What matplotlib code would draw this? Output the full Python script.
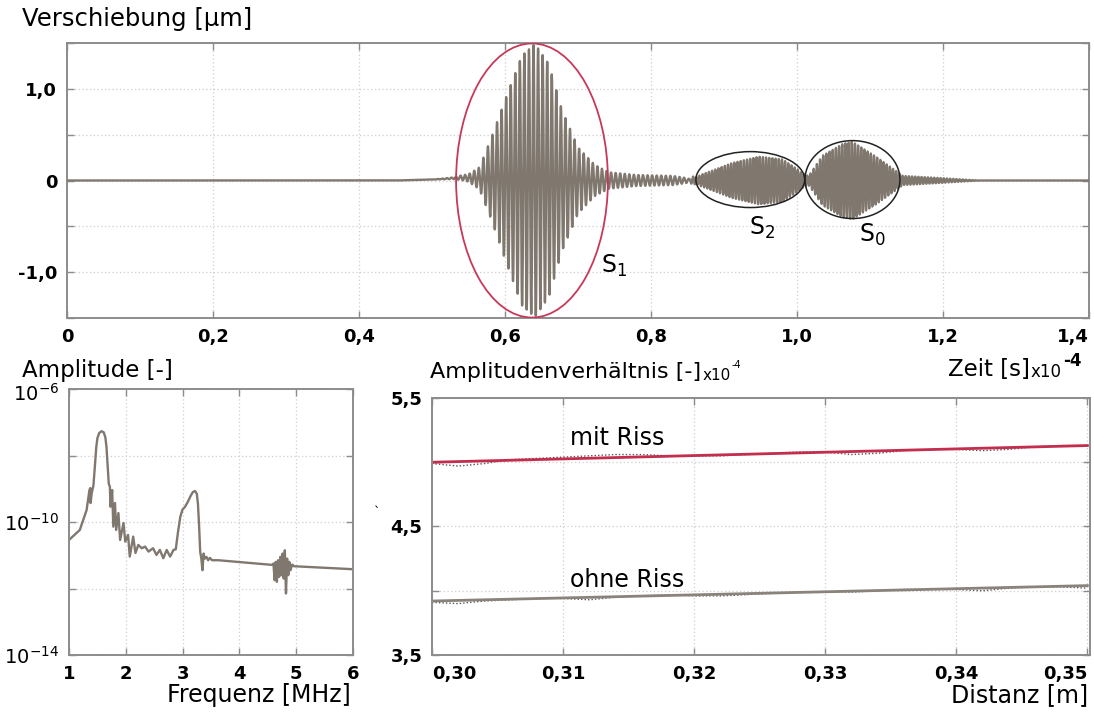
import numpy as np
import matplotlib
matplotlib.use("Agg")
import matplotlib.pyplot as plt
from matplotlib.patches import Ellipse
from matplotlib.ticker import FixedLocator, FixedFormatter
import matplotlib.transforms as mtransforms

plt.rcParams['font.family'] = ['DejaVu Sans']

# ---------------- data: time signal (packets) ----------
# envelope knots (time in 1e-4 s, amplitude in µm) and carrier frequency (MHz)
s1_env_t = [0.50, 0.53, 0.55, 0.565, 0.581, 0.602, 0.623, 0.641, 0.660, 0.678, 0.700, 0.723, 0.742, 0.780, 0.830, 0.870]
s1_env_a = [0.00, 0.01, 0.04, 0.12, 0.44, 0.91, 1.36, 1.49, 1.27, 0.77, 0.36, 0.17, 0.09, 0.06, 0.05, 0.00]
s1_freq = 1.6
s2_env_t = [0.85, 0.861, 0.888, 0.911, 0.948, 0.980, 1.003, 1.015]
s2_env_a = [0.00, 0.04, 0.12, 0.19, 0.26, 0.23, 0.11, 0.00]
s2_freq = 2.3
s0_env_t = [1.005, 1.017, 1.035, 1.063, 1.076, 1.108, 1.131, 1.145, 1.19, 1.25]
s0_env_a = [0.00, 0.06, 0.27, 0.40, 0.42, 0.26, 0.13, 0.05, 0.03, 0.00]
s0_freq = 2.3
# slow baseline drift before the first packet
base_t = [0.45, 0.50, 0.54, 0.58, 0.62]
base_a = [0.00, 0.01, 0.03, 0.02, 0.00]

# ---------------- data: amplitude spectrum --------------------------------
spec_f = [1.00, 1.19, 1.31, 1.36, 1.375, 1.38, 1.40, 1.43, 1.45, 1.48, 1.50, 1.53, 1.57, 1.61, 1.64, 1.66, 1.68, 1.70,
          1.72, 1.73, 1.76, 1.78, 1.81, 1.83, 1.87, 1.90, 1.96, 1.99, 2.04, 2.07, 2.13, 2.17,
          2.22, 2.28, 2.34, 2.40, 2.48, 2.54, 2.60, 2.66, 2.72, 2.78, 2.84, 2.88, 2.92, 2.96, 3.00,
          3.04, 3.09, 3.14, 3.18, 3.22, 3.25, 3.27, 3.29, 3.31, 3.33, 3.35, 3.37, 3.39, 3.42, 3.45, 3.48, 3.52, 3.63,
          4.58, 4.60, 4.62, 4.64, 4.66, 4.68, 4.70, 4.72, 4.74, 4.76, 4.78, 4.80, 4.82, 4.84, 4.86, 4.88, 4.90, 4.93, 4.96, 6.00]
spec_log10 = [-10.54, -10.24, -9.64, -9.04, -8.98, -9.43, -9.13, -8.9, -8.45, -7.75, -7.48, -7.33, -7.27, -7.30, -7.45, -7.75, -8.30, -8.85,
              -8.94, -9.54, -9.04, -10.14, -9.43, -10.24, -9.73, -10.54, -10.03, -10.59, -10.39, -11.04, -10.44, -10.93,
              -10.69, -10.79, -10.74, -10.89, -10.79, -10.99, -10.84, -11.09, -10.84, -11.04, -10.84, -10.82, -10.29, -9.84, -9.62,
              -9.55, -9.40, -9.22, -9.10, -9.07, -9.15, -9.45, -10.10, -10.90, -11.10, -11.45, -10.95, -11.10, -11.05, -11.15, -11.08, -11.15, -11.15,
              -11.29, -11.25, -11.75, -11.20, -11.80, -11.15, -11.65, -11.05, -11.60, -10.95, -11.70, -10.85, -12.15, -11.10, -11.60, -11.20, -11.45, -11.28, -11.33, -11.42]

# ---------------- data: amplitude ratio vs distance -----------------------
dist_fit = [0.30, 0.35]
mit_fit = [5.00, 5.13]
ohne_fit = [3.92, 4.04]
dist_raw = [0.300, 0.302, 0.304, 0.306, 0.308, 0.310, 0.312, 0.314, 0.316, 0.318, 0.320, 0.322, 0.324,
            0.326, 0.328, 0.330, 0.332, 0.334, 0.336, 0.338, 0.340, 0.342, 0.344, 0.346, 0.348, 0.350]
mit_raw = [4.99, 4.97, 4.99, 5.02, 5.03, 5.04, 5.05, 5.06, 5.06, 5.05, 5.05, 5.05, 5.06,
           5.07, 5.08, 5.08, 5.06, 5.07, 5.09, 5.10, 5.10, 5.09, 5.10, 5.12, 5.13, 5.13]
ohne_raw = [3.91, 3.90, 3.92, 3.93, 3.94, 3.94, 3.93, 3.95, 3.96, 3.97, 3.96, 3.96, 3.97,
            3.98, 3.99, 3.99, 3.99, 4.00, 4.01, 4.01, 4.01, 4.00, 4.02, 4.03, 4.03, 4.02]

# ---------------- styling ---------------------------------------------------
W, H = 1094, 715
trace_col = '#80786f'
spine_col = '#8c8c8c'
grid_kw = dict(color='#cfcfcf', linestyle=(0, (1, 2)), linewidth=0.9)
lab_fs = 16.5

fig = plt.figure(figsize=(W / 100, H / 100), dpi=100)
renderer = fig.canvas.get_renderer()


def fbox(l, t, r, b):
    return [l / W, 1 - b / H, (r - l) / W, (b - t) / H]


def style(ax):
    for s in ax.spines.values():
        s.set_color(spine_col)
        s.set_linewidth(1.4)
    ax.tick_params(direction='in', which='both', top=True, right=True, length=5,
                   color=spine_col, width=1.0, labelsize=13, pad=7)
    for lab in ax.get_xticklabels() + ax.get_yticklabels():
        lab.set_fontweight('bold')


def right_px(txt):
    bb = txt.get_window_extent(renderer)
    return bb.x1


def label_with_exp(x_px, y_px, main, main_fs, x10_fs, exp_fs, exp_bold, exp_dy, anchor='left'):
    t1 = fig.text(x_px / W, 1 - y_px / H, main, fontsize=main_fs, ha=anchor, va='center')
    x_end = right_px(t1)
    t2 = fig.text((x_end + 1) / W, 1 - (y_px + 3) / H, 'x10', fontsize=x10_fs, ha='left', va='center')
    x_end2 = right_px(t2)
    fig.text((x_end2 + 1) / W, 1 - (y_px - exp_dy) / H, '-4', fontsize=exp_fs,
             fontweight='bold' if exp_bold else 'normal', ha='left', va='center')


# ---------------- top: time signal -----------------------------------------
ax1 = fig.add_axes(fbox(67, 43, 1089, 318))
t = np.linspace(0, 1.42, 40000)
sig = (np.interp(t, s1_env_t, s1_env_a, left=0, right=0) * np.sin(2 * np.pi * s1_freq * 100 * t)
       + np.interp(t, s2_env_t, s2_env_a, left=0, right=0) * np.sin(2 * np.pi * s2_freq * 100 * t)
       + np.interp(t, s0_env_t, s0_env_a, left=0, right=0) * np.sin(2 * np.pi * s0_freq * 100 * t)
       + np.interp(t, base_t, base_a, left=0, right=0))
ax1.plot(t, sig, color=trace_col, lw=1.7, zorder=3)
ax1.set_xlim(0, 1.4)
ax1.set_ylim(-1.5, 1.5)
xt = [0, 0.2, 0.4, 0.6, 0.8, 1.0, 1.2, 1.4]
ax1.xaxis.set_major_locator(FixedLocator(xt))
ax1.xaxis.set_major_formatter(FixedFormatter(['0', '0,2', '0,4', '0,6', '0,8', '1,0', '1,2', '1,4']))
yt = [-1.5, -1.0, -0.5, 0, 0.5, 1.0, 1.5]
ax1.yaxis.set_major_locator(FixedLocator(yt))
ax1.yaxis.set_major_formatter(FixedFormatter(['', '-1,0', '', '0', '', '1,0', '']))
ax1.grid(True, **grid_kw)
style(ax1)
ax1.get_xticklabels()[-1].set_ha('right')

ax1.add_patch(Ellipse((0.637, 0.0), 0.208, 2.99, fill=False, ec='#c8385a', lw=1.3, zorder=4))
ax1.add_patch(Ellipse((0.936, 0.01), 0.149, 0.61, fill=False, ec='#222222', lw=1.1, zorder=4))
ax1.add_patch(Ellipse((1.076, 0.01), 0.130, 0.85, fill=False, ec='#222222', lw=1.1, zorder=4))
ax1.text(0.731, -0.93, r'S$_1$', fontsize=17, ha='left', va='center')
ax1.text(0.934, -0.52, r'S$_2$', fontsize=17, ha='left', va='center')
ax1.text(1.085, -0.59, r'S$_0$', fontsize=17, ha='left', va='center')

fig.text(22 / W, 1 - 19 / H, 'Verschiebung [µm]', fontsize=17.5, ha='left', va='center')
label_with_exp(948, 369, 'Zeit [s]', lab_fs, 12, 12, True, 8)

# ---------------- bottom left: spectrum ----------------------------------
ax2 = fig.add_axes(fbox(69, 389, 353, 655))
ax2.plot(spec_f, 10.0 ** np.array(spec_log10), color=trace_col, lw=1.7)
ax2.set_yscale('log')
ax2.set_xlim(1, 6)
ax2.set_ylim(1e-14, 1e-6)
ax2.xaxis.set_major_locator(FixedLocator([1, 2, 3, 4, 5, 6]))
ax2.xaxis.set_major_formatter(FixedFormatter(['1', '2', '3', '4', '5', '6']))
ax2.yaxis.set_major_locator(FixedLocator([1e-14, 1e-12, 1e-10, 1e-8, 1e-6]))
ax2.yaxis.set_major_formatter(FixedFormatter([r'$10^{-14}$', '', r'$10^{-10}$', '', r'$10^{-6}$']))
ax2.yaxis.set_minor_locator(FixedLocator([]))
ax2.grid(True, **grid_kw)
style(ax2)
for lab in ax2.get_yticklabels():
    lab.set_fontweight('normal')
    lab.set_fontsize(14)
ytl = ax2.get_yticklabels()
ytl[-1].set_transform(ytl[-1].get_transform() + mtransforms.ScaledTranslation(0, -3 / 100, fig.dpi_scale_trans))
fig.text(22 / W, 1 - 371 / H, 'Amplitude [-]', fontsize=lab_fs, ha='left', va='center')
fig.text(351 / W, 1 - 695 / H, 'Frequenz [MHz]', fontsize=17, ha='right', va='center')

# ---------------- bottom right: amplitude ratio --------------------------
ax3 = fig.add_axes(fbox(432, 398, 1090, 655))
ax3.plot(dist_raw, mit_raw, color='#555555', lw=1.0, ls=(0, (1, 1.5)))
ax3.plot(dist_raw, ohne_raw, color='#555555', lw=1.0, ls=(0, (1, 1.5)))
ax3.plot(dist_fit, mit_fit, color='#c32d4e', lw=2.0)
ax3.plot(dist_fit, ohne_fit, color='#8a837b', lw=2.0)
ax3.set_xlim(0.30, 0.3502)
ax3.set_ylim(3.5, 5.5)
ax3.xaxis.set_major_locator(FixedLocator([0.30, 0.31, 0.32, 0.33, 0.34, 0.35]))
ax3.xaxis.set_major_formatter(FixedFormatter(['0,30', '0,31', '0,32', '0,33', '0,34', '0,35']))
ax3.yaxis.set_major_locator(FixedLocator([3.5, 4.0, 4.5, 5.0, 5.5]))
ax3.yaxis.set_major_formatter(FixedFormatter(['3,5', '', '4,5', '', '5,5']))
ax3.grid(True, **grid_kw)
style(ax3)
ax3.get_xticklabels()[0].set_ha('left')
ax3.get_xticklabels()[-1].set_ha('right')
ax3.text(0.3105, 5.19, 'mit Riss', fontsize=17, ha='left', va='center')
ax3.text(0.3105, 4.08, 'ohne Riss', fontsize=17, ha='left', va='center')
label_with_exp(430, 372, 'Amplitudenverhältnis [-]', 16, 11, 7, False, 7)
fig.text(1088 / W, 1 - 695 / H, 'Distanz [m]', fontsize=17, ha='right', va='center')
fig.text(377 / W, 1 - 513 / H, '`', fontsize=9, ha='center', va='center')

fig.savefig('out.png', dpi=100)
